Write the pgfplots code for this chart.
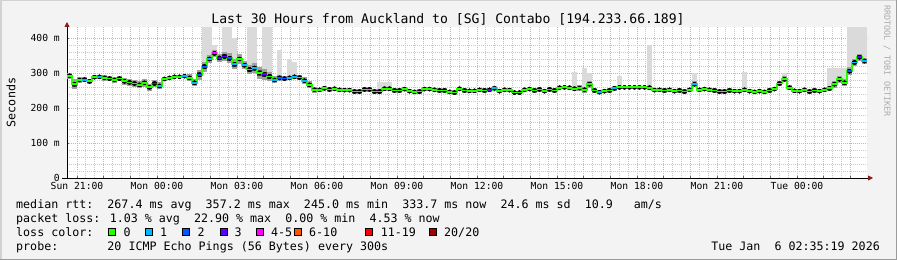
\documentclass[border=0pt]{standalone}
\usepackage{pgfplots}
\pgfplotsset{compat=1.18}
\usepackage{pgfplotstable}
\usepackage{fontspec}
\setmainfont{DejaVu Sans Mono}
\usetikzlibrary{arrows.meta}

\definecolor{bgc}{HTML}{F3F3F3}
\definecolor{lc0}{HTML}{26FF00}
\definecolor{lc1}{HTML}{00B8FF}
\definecolor{lc2}{HTML}{0059FF}
\definecolor{lc3}{HTML}{5E00FF}
\definecolor{lc4}{HTML}{FF00FF}
\definecolor{lc6}{HTML}{FF5500}
\definecolor{lc11}{HTML}{FF0000}
\definecolor{lc20}{HTML}{A10000}
\definecolor{smokeout}{HTML}{A0A0A0}
\definecolor{smokein}{HTML}{4A4A4A}
\definecolor{smokelt}{HTML}{DADADA}
\definecolor{mgrid}{HTML}{F2A0A0}
\definecolor{ngrid}{HTML}{C8C8C8}
\definecolor{arrowred}{HTML}{8B1A1A}

\newcommand\fL{\fontsize{11.66bp}{14bp}\selectfont}
\newcommand\fT{\fontsize{9.7bp}{11bp}\selectfont}

% median rtt per 5-px sample (hours from 20:37:30), loss class, smoke half widths
\pgfplotstableread{
t med c w wi
0.094 292 0 8 4
0.281 268 0 14 7
0.469 280 0 8 4
0.656 281 1 8 4
0.844 276 0 8 4
1.031 288 0 6 3
1.219 289 1 6 3
1.406 286 0 8 4
1.594 284 0 8 4
1.781 280 0 8 4
1.969 284 0 8 4
2.156 276 0 10 5
2.344 273 0 10 5
2.531 270 0 10 5
2.719 266 0 10 5
2.906 272 0 12 6
3.094 259 0 10 5
3.281 270 3 10 5
3.469 263 1 10 5
3.656 283 0 6 3
3.844 286 0 4 2
4.031 289 0 4 2
4.219 289 0 4 2
4.406 291 1 4 2
4.594 286 0 10 5
4.781 272 1 10 5
4.969 295 2 14 7
5.156 318 2 14 7
5.344 340 1 12 6
5.531 356 4 10 5
5.719 343 3 12 6
5.906 347 3 12 6
6.094 342 2 14 7
6.281 325 1 14 7
6.469 340 0 14 7
6.656 322 1 12 6
6.844 310 0 14 7
7.031 314 1 14 7
7.219 300 0 16 8
7.406 296 3 16 8
7.594 290 0 12 6
7.781 280 1 10 5
7.969 286 2 8 4
8.156 284 2 6 3
8.344 286 1 6 3
8.531 289 1 6 3
8.719 287 0 8 4
8.906 278 1 10 5
9.094 266 0 10 5
9.281 252 0 8 4
9.469 252 0 6 3
9.656 256 0 6 3
9.844 253 0 6 3
10.031 255 0 6 3
10.219 252 0 6 3
10.406 251 0 6 3
10.594 251 0 6 3
10.781 247 0 6 3
10.969 247 0 6 3
11.156 253 0 6 3
11.344 253 0 6 3
11.531 247 0 6 3
11.719 247 0 6 3
11.906 255 0 6 3
12.094 255 0 6 3
12.281 250 0 6 3
12.469 250 0 6 3
12.656 254 0 6 3
12.844 248 0 6 3
13.031 246 0 6 3
13.219 247 0 6 3
13.406 254 0 6 3
13.594 254 0 6 3
13.781 252 0 6 3
13.969 250 0 6 3
14.156 250 0 6 3
14.344 246 0 6 3
14.531 244 0 6 3
14.719 255 0 6 3
14.906 250 0 6 3
15.094 249 0 6 3
15.281 249 0 6 3
15.469 252 0 6 3
15.656 250 0 6 3
15.844 252 3 6 3
16.031 256 1 6 3
16.219 248 0 6 3
16.406 252 0 6 3
16.594 251 0 6 3
16.781 244 0 4 2
16.969 244 0 4 2
17.156 252 0 6 3
17.344 254 0 6 3
17.531 250 0 6 3
17.719 253 0 6 3
17.906 248 0 6 3
18.094 253 0 6 3
18.281 250 0 6 3
18.469 258 0 4 2
18.656 259 0 4 2
18.844 258 0 6 3
19.031 255 0 6 3
19.219 257 0 8 4
19.406 252 0 8 4
19.594 268 0 10 5
19.781 250 0 8 4
19.969 245 1 6 3
20.156 248 0 6 3
20.344 250 0 8 4
20.531 256 1 8 4
20.719 259 0 4 2
20.906 259 0 4 2
21.094 259 0 4 2
21.281 259 0 4 2
21.469 259 0 4 2
21.656 259 0 4 2
21.844 258 0 6 3
22.031 251 0 6 3
22.219 252 0 6 3
22.406 250 0 6 3
22.594 252 0 6 3
22.781 248 0 6 3
22.969 250 0 6 3
23.156 247 0 6 3
23.344 252 0 6 3
23.531 268 1 8 4
23.719 252 0 6 3
23.906 254 0 6 3
24.094 252 0 6 3
24.281 250 0 6 3
24.469 247 0 6 3
24.656 247 0 6 3
24.844 250 0 6 3
25.031 248 0 6 3
25.219 248 0 6 3
25.406 252 0 6 3
25.594 248 0 6 3
25.781 246 0 6 3
25.969 248 0 6 3
26.156 246 0 6 3
26.344 250 0 6 3
26.531 254 0 6 3
26.719 270 0 8 4
26.906 282 0 8 4
27.094 258 0 8 4
27.281 249 0 6 3
27.469 248 0 6 3
27.656 252 0 6 3
27.844 247 0 6 3
28.031 250 0 6 3
28.219 248 0 6 3
28.406 252 0 6 3
28.594 256 0 8 4
28.781 268 0 10 5
28.969 282 0 10 5
29.156 272 0 10 5
29.344 305 2 12 6
29.531 330 1 10 5
29.719 345 3 10 5
29.906 334 1 8 4
}\main

% light smoke spikes: bottom and height
\pgfplotstableread{
t lo h
5.156 318 113
5.344 340 91
5.531 356 24
5.906 347 84
6.094 342 89
6.281 325 75
6.844 310 121
7.031 314 117
7.406 296 135
7.594 290 141
7.969 286 80
8.344 286 54
8.531 289 41
11.719 247 28
11.906 255 20
12.094 255 20
19.031 255 48
19.406 252 62
19.594 268 32
20.719 259 31
21.844 258 122
23.531 268 32
25.406 252 51
26.906 282 18
28.594 256 58
28.781 268 46
28.969 282 32
29.156 272 42
29.344 305 126
29.531 330 101
29.719 345 86
29.906 334 97
}\spikes

\begin{document}
\begin{tikzpicture}
\useasboundingbox (0,0) rectangle (897bp,260bp);
\fill[bgc] (0,0) rectangle (897bp,260bp);
\draw[line width=1.5bp, color={rgb,255:red,210;green,210;blue,210}] (0.75bp,0) -- (0.75bp,259.25bp) -- (897bp,259.25bp);
\draw[line width=1.5bp, color={rgb,255:red,155;green,155;blue,155}] (0,0.75bp) -- (896.25bp,0.75bp) -- (896.25bp,260bp);

\begin{axis}[
  at={(67bp,82bp)}, anchor=south west,
  scale only axis, width=800bp, height=151bp,
  xmin=0, xmax=30, ymin=0, ymax=431.4,
  axis background/.style={fill=white},
  axis lines=left,
  axis line style={line width=0.8bp, black, -{Triangle[length=5bp,width=5bp,color=arrowred]}},
  x axis line style={shorten >=-6bp, shorten <=-5bp},
  y axis line style={shorten >=-5bp},
  xtick={0.375,1.375,...,29.375},
  xticklabels={Sun 21:00,,,Mon 00:00,,,Mon 03:00,,,Mon 06:00,,,Mon 09:00,,,Mon 12:00,,,Mon 15:00,,,Mon 18:00,,,Mon 21:00,,,Tue 00:00,,},
  minor x tick num=2,
  ytick={0,100,200,300,400},
  yticklabels={0,100 m,200 m,300 m,400 m},
  minor y tick num=4,
  grid=both,
  major grid style={mgrid, line width=0.8bp, dash pattern=on 1bp off 1bp},
  minor grid style={ngrid, line width=0.8bp, dash pattern=on 1bp off 1bp},
  tick align=inside,
  major tick length=2bp, minor tick length=0bp,
  tick style={black!60, line width=0.5bp},
  xticklabel style={font=\fT, anchor=base, yshift=-12bp, inner sep=0pt},
  yticklabel style={font=\fT, anchor=east, inner sep=0pt, xshift=-7bp},
]
% light smoke
\addplot[only marks, mark=none, forget plot,
  error bars/.cd, y dir=plus, y explicit, error mark=none,
  error bar style={line width=5.2bp, draw=smokelt}]
  table[x=t, y=lo, y error=h] {\spikes};
% outer smoke
\addplot[only marks, mark=none, forget plot,
  error bars/.cd, y dir=both, y explicit, error mark=none,
  error bar style={line width=5.2bp, draw=smokeout}]
  table[x=t, y=med, y error=w] {\main};
% inner smoke
\addplot[only marks, mark=none, forget plot,
  error bars/.cd, y dir=both, y explicit, error mark=none,
  error bar style={line width=5.2bp, draw=smokein}]
  table[x=t, y=med, y error=wi] {\main};
% median line
\addplot[const plot mark mid, draw=lc0, line width=1.8bp, mark=none]
  table[x=t, y=med] {\main};
% loss-coloured median
\addplot[scatter, only marks, mark=-, mark size=2.6bp,
  mark options={line width=1.8bp},
  point meta=explicit symbolic,
  scatter/classes={0={draw=lc0},1={draw=lc1},2={draw=lc2},3={draw=lc3},4={draw=lc4}}]
  table[x=t, y=med, meta=c] {\main};
\end{axis}

% title
\node[anchor=base, inner sep=0pt, font=\fontsize{13.1bp}{15bp}\selectfont] at (448bp,236.5bp)
  {Last 30 Hours from Auckland to [SG] Contabo [194.233.66.189]};
% y label
\node[rotate=90, inner sep=0pt, font=\fL] at (11bp,157.5bp) {Seconds};
% watermark
\node[rotate=-90, anchor=west, inner sep=0pt, text={rgb,255:red,170;green,170;blue,170},
  font=\fontsize{8.4bp}{9bp}\selectfont] at (887bp,255bp) {RRDTOOL / TOBI OETIKER};

% legend
\node[anchor=base west, inner sep=0pt, font=\fL] at (16bp,51.7bp)
  {median rtt:~~267.4 ms avg~~357.2 ms max~~245.0 ms min~~333.7 ms now~~24.6 ms sd~~10.9~~~am/s};
\node[anchor=base west, inner sep=0pt, font=\fL] at (16bp,37.5bp)
  {packet loss: 1.03 \% avg~~22.90 \% max~~0.00 \% min~~4.53 \% now};
\node[anchor=base west, inner sep=0pt, font=\fL] at (16bp,23.3bp) {loss color:};
\foreach \bx/\col in {108.3/lc0, 145.7/lc1, 182.7/lc2, 220/lc3, 256.7/lc4, 294.5/lc6, 365.7/lc11, 429/lc20}{
  \filldraw[fill=\col, draw=black, line width=0.6bp] (\bx bp,24.5bp) rectangle ++(7bp,7bp);
}
\foreach \bx/\lab in {123.3/0, 160/1, 197.3/2, 234.3/3, 271/4-5, 309/6-10, 380.7/11-19}{
  \node[anchor=base west, inner sep=0pt, font=\fL] at (\bx bp,23.3bp) {\lab};
}
\node[anchor=base west, inner sep=0pt, font=\fL] at (444bp,23.3bp) {20/20};
\node[anchor=base west, inner sep=0pt, font=\fL] at (16bp,9.5bp)
  {probe:~~~~~~~20 ICMP Echo Pings (56 Bytes) every 300s};
\node[anchor=base east, inner sep=0pt, font=\fL] at (880bp,9.5bp)
  {Tue Jan~~6 02:35:19 2026};
\end{tikzpicture}
\end{document}
